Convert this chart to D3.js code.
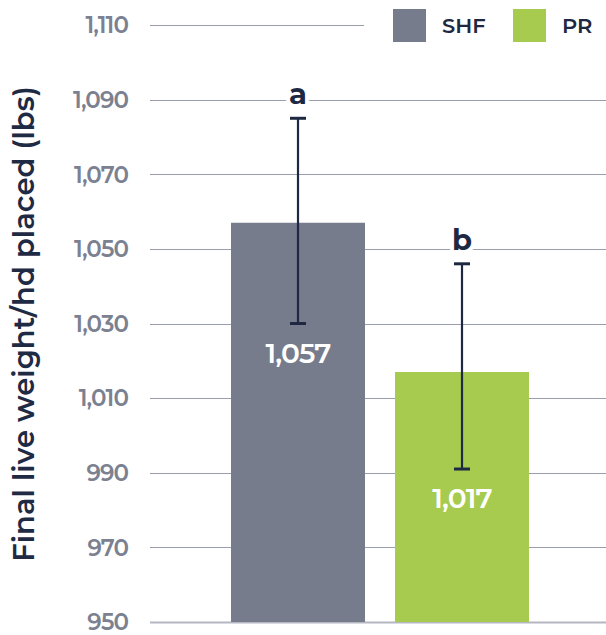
<!DOCTYPE html>
<html>
<head>
<meta charset="utf-8">
<script src="https://cdn.jsdelivr.net/npm/d3@7"></script>
<style>
  html, body { margin: 0; padding: 0; background: #fff; }
  svg { display: block; }
</style>
</head>
<body>
<svg id="chart" width="606" height="635"></svg>
<script>
// Final live weight per head placed, by treatment
const groups = ["SHF", "PR"];
const means = [1057, 1017];
const errLow = [1030, 991];
const errHigh = [1085, 1046];
const sigLetters = ["a", "b"];
const yTicks = [950, 970, 990, 1010, 1030, 1050, 1070, 1090, 1110];
const colors = ["#767c8c", "#a6cb4f"];

const FONT = "Montserrat, 'Open Sans', 'Noto Sans', sans-serif";
const DARK = "#1e2842";

const svg = d3.select("#chart");

const y = d3.scaleLinear().domain([950, 1110]).range([622, 25]);
const x = d3.scaleBand().domain(groups).range([231, 529])
  .paddingInner(30 / 164).paddingOuter(0);

const fmt = d3.format(",");

// gridlines
const grid = svg.append("g");
grid.selectAll("line").data(yTicks).join("line")
  .attr("x1", 150)
  .attr("x2", d => d === 1110 ? 364 : 606)
  .attr("y1", d => Math.round(y(d)) + 0.5)
  .attr("y2", d => Math.round(y(d)) + 0.5)
  .attr("stroke", d => d === 950 ? "#b4b7c2" : "#9a9eac")
  .attr("stroke-width", d => d === 950 ? 2 : 1.2);

// tick labels
svg.append("g").selectAll("text").data(yTicks).join("text")
  .attr("x", 128)
  .attr("y", d => y(d))
  .attr("dy", "0.36em")
  .attr("text-anchor", "end")
  .attr("font-family", FONT)
  .attr("font-weight", 600)
  .attr("font-size", 23)
  .attr("letter-spacing", -0.9)
  .attr("fill", "#7b8190")
  .text(d => fmt(d));

// axis title
svg.append("text")
  .attr("transform", "translate(34,324) rotate(-90)")
  .attr("text-anchor", "middle")
  .attr("font-family", FONT)
  .attr("font-weight", 600)
  .attr("font-size", 29)
  .attr("fill", "#1f2a44")
  .text("Final live weight/hd placed (lbs)");

// bars
svg.append("g").selectAll("rect").data(groups).join("rect")
  .attr("x", d => x(d))
  .attr("width", x.bandwidth())
  .attr("y", (d, i) => y(means[i]))
  .attr("height", (d, i) => y(950) - y(means[i]))
  .attr("fill", (d, i) => colors[i]);

// error bars
const eb = svg.append("g").attr("stroke", DARK);
groups.forEach((g, i) => {
  const cx = x(g) + x.bandwidth() / 2;
  eb.append("line").attr("x1", cx).attr("x2", cx)
    .attr("y1", y(errHigh[i])).attr("y2", y(errLow[i]))
    .attr("stroke-width", 2.2);
  [errHigh[i], errLow[i]].forEach(v => {
    eb.append("line").attr("x1", cx - 8).attr("x2", cx + 8)
      .attr("y1", y(v)).attr("y2", y(v))
      .attr("stroke-width", 3);
  });
});

// significance letters
svg.append("g").selectAll("text").data(groups).join("text")
  .attr("x", d => x(d) + x.bandwidth() / 2)
  .attr("y", (d, i) => y(errHigh[i]) - 14)
  .attr("text-anchor", "middle")
  .attr("font-family", FONT)
  .attr("font-weight", 700)
  .attr("font-size", 29)
  .attr("fill", DARK)
  .attr("stroke", "#fff")
  .attr("stroke-width", 8)
  .attr("paint-order", "stroke")
  .text((d, i) => sigLetters[i]);

// value labels
svg.append("g").selectAll("text").data(groups).join("text")
  .attr("x", d => x(d) + x.bandwidth() / 2)
  .attr("y", (d, i) => y(errLow[i]) + 39)
  .attr("text-anchor", "middle")
  .attr("font-family", FONT)
  .attr("font-weight", 600)
  .attr("font-size", 28)
  .attr("letter-spacing", -0.8)
  .attr("fill", "#fff")
  .text((d, i) => fmt(means[i]));

// legend
const legend = svg.append("g");
const legX = [393, 513];
groups.forEach((g, i) => {
  legend.append("rect").attr("x", legX[i]).attr("y", 9)
    .attr("width", 33).attr("height", 33).attr("fill", colors[i]);
  legend.append("text").attr("x", legX[i] + 49).attr("y", 33)
    .attr("font-family", FONT).attr("font-weight", 600)
    .attr("font-size", 21).attr("fill", DARK)
    .text(g);
});
</script>
</body>
</html>
